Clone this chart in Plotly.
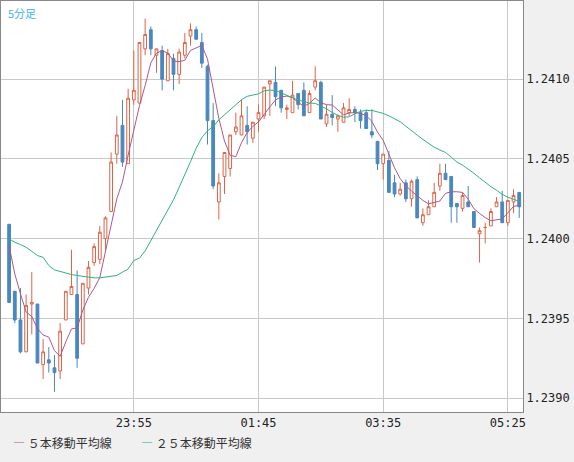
import pandas as pd
import plotly.graph_objects as go

opens = [1.24009,1.23967,1.23949,1.23929,1.23959,1.23959,1.23921,1.23924,1.23919,1.23917,1.23949,1.23965,1.23965,1.23934,1.23969,1.23985,1.23987,1.24000,1.24017,1.24053,1.24071,1.24047,1.24087,
         1.24085,1.24119,1.24131,1.24115,1.24118,1.24099,1.24113,1.24103,1.24115,1.24127,1.24131,1.24123,1.24108,1.24074,1.24023,1.24039,1.24044,1.24067,1.24065,1.24071,1.24063,1.24075,1.24077,
         1.24097,1.24098,1.24093,1.24081,1.24079,1.24091,1.24093,1.24079,1.24095,1.24098,1.24072,1.24078,1.24075,1.24073,1.24079,1.24081,1.24079,1.24079,1.24067,1.24061,1.24047,1.24049,1.24035,
         1.24028,1.24035,1.24025,1.24037,1.24010,1.24015,1.24020,1.24033,1.24041,1.24039,1.24022,1.24019,1.24023,1.24017,1.24003,1.24007,1.24008,1.24020,1.24023,1.24010,1.24023,1.24029]
highs = [1.24009,1.23967,1.23969,1.23965,1.23979,1.23959,1.23937,1.23932,1.23927,1.23947,1.23967,1.23993,1.23980,1.23972,1.23986,1.23997,1.24008,1.24014,1.24054,1.24077,1.24087,1.24094,1.24118,
         1.24123,1.24138,1.24133,1.24119,1.24121,1.24119,1.24116,1.24119,1.24129,1.24135,1.24133,1.24129,1.24109,1.24085,1.24041,1.24054,1.24065,1.24079,1.24087,1.24083,1.24073,1.24084,1.24095,
         1.24099,1.24108,1.24093,1.24084,1.24099,1.24091,1.24098,1.24093,1.24108,1.24099,1.24084,1.24090,1.24078,1.24085,1.24088,1.24083,1.24081,1.24081,1.24081,1.24061,1.24053,1.24055,1.24040,
         1.24035,1.24037,1.24037,1.24039,1.24019,1.24024,1.24035,1.24047,1.24047,1.24039,1.24022,1.24029,1.24033,1.24017,1.24007,1.24010,1.24019,1.24026,1.24030,1.24024,1.24031,1.24029]
lows = [1.23960,1.23947,1.23928,1.23929,1.23940,1.23922,1.23912,1.23916,1.23904,1.23912,1.23949,1.23965,1.23919,1.23934,1.23965,1.23983,1.23984,1.23993,1.24017,1.24047,1.24045,1.24047,1.24084,
         1.24085,1.24115,1.24115,1.24104,1.24093,1.24099,1.24093,1.24097,1.24113,1.24121,1.24125,1.24107,1.24059,1.24031,1.24012,1.24028,1.24039,1.24065,1.24065,1.24059,1.24060,1.24067,1.24075,
         1.24077,1.24083,1.24079,1.24075,1.24079,1.24081,1.24077,1.24079,1.24093,1.24075,1.24070,1.24071,1.24067,1.24073,1.24077,1.24073,1.24069,1.24069,1.24063,1.24043,1.24037,1.24029,1.24026,
         1.24027,1.24023,1.24020,1.24013,1.24008,1.24015,1.24020,1.24030,1.24037,1.24010,1.24010,1.24017,1.24020,1.24007,1.23985,1.23997,1.24008,1.24020,1.24010,1.24008,1.24016,1.24013]
closes = [1.23960,1.23949,1.23929,1.23958,1.23960,1.23922,1.23929,1.23922,1.23916,1.23942,1.23967,1.23970,1.23925,1.23972,1.23982,1.23995,1.24004,1.24013,1.24048,1.24065,1.24048,1.24088,1.24093,
          1.24123,1.24128,1.24119,1.24119,1.24100,1.24116,1.24103,1.24117,1.24123,1.24131,1.24125,1.24110,1.24074,1.24033,1.24035,1.24054,1.24065,1.24070,1.24077,1.24067,1.24073,1.24079,1.24095,
          1.24099,1.24089,1.24082,1.24082,1.24090,1.24084,1.24077,1.24091,1.24099,1.24075,1.24078,1.24076,1.24077,1.24082,1.24081,1.24079,1.24074,1.24069,1.24065,1.24047,1.24053,1.24029,1.24028,
          1.24031,1.24025,1.24036,1.24013,1.24015,1.24020,1.24029,1.24041,1.24037,1.24020,1.24020,1.24027,1.24020,1.24007,1.24005,1.24007,1.24017,1.24023,1.24010,1.24024,1.24027,1.24020]

# moving-average values before enough bars exist
ma5_head = [1.239956,1.239779,1.239654,1.23954]
ma25_head = [1.239998,1.239977,1.239963,1.239946,1.23992,1.239894,1.239883,1.239831,1.239804,1.239794,1.239783,
             1.239775,1.239769,1.239763,1.239758,1.239754,1.239754,1.239758,1.239763,1.239769,1.23979,1.23981,1.239863,1.239878]

tick_vals = ["2024-01-01 23:55", "2024-01-02 01:45", "2024-01-02 03:35", "2024-01-02 05:25"]
tick_text = ["23:55", "01:45", "03:35", "05:25"]
y_ticks = [1.2390, 1.2395, 1.2400, 1.2405, 1.2410]

times = pd.date_range("2024-01-01 22:05", periods=len(closes), freq="5min")
cs = pd.Series(closes)
ma5 = cs.rolling(5).mean().tolist()
ma25 = cs.rolling(25).mean().tolist()
ma5[:len(ma5_head)] = ma5_head
ma25[:len(ma25_head)] = ma25_head

RED = "#dc6446"
BLUE = "#4a87bf"
PURPLE = "#b0578c"
GREEN = "#2fb37c"

fig = go.Figure()
fig.add_trace(go.Candlestick(
    x=times, open=opens, high=highs, low=lows, close=closes,
    increasing=dict(line=dict(color=RED, width=1), fillcolor="white"),
    decreasing=dict(line=dict(color=BLUE, width=1), fillcolor=BLUE),
    whiskerwidth=0, showlegend=False, hoverinfo="skip"))
fig.add_trace(go.Scatter(x=times, y=ma5, mode="lines", line=dict(color=PURPLE, width=1), showlegend=False))
fig.add_trace(go.Scatter(x=times, y=ma25, mode="lines", line=dict(color=GREEN, width=1), showlegend=False))

fig.update_layout(
    width=574, height=462,
    margin=dict(l=1, r=51, t=1, b=50),
    paper_bgcolor="#f0f0f0", plot_bgcolor="white",
    font=dict(family="DejaVu Sans Mono", size=12, color="#222"),
    xaxis=dict(range=["2024-01-01 21:57:50", "2024-01-02 05:38:20"], rangeslider=dict(visible=False),
               tickvals=tick_vals, ticktext=tick_text, showgrid=True, gridcolor="#c8c8c8",
               showline=True, linecolor="#888", mirror=True, ticks="", fixedrange=True),
    yaxis=dict(range=[1.238913, 1.24149], side="right", tickvals=y_ticks, tickformat=".4f",
               showgrid=True, gridcolor="#c8c8c8", showline=True, linecolor="#888", mirror=True,
               ticks="", zeroline=False),
)
fig.add_annotation(text="5分足", x=0.01, y=0.995, xref="paper", yref="paper", xanchor="left", yanchor="top",
                   showarrow=False, font=dict(family="Noto Sans CJK JP", size=11, color="#3cb4ec"))
fig.add_annotation(text=f"<span style='color:{PURPLE}'>―</span> ５本移動平均線", x=0.02, y=-0.075,
                   xref="paper", yref="paper", xanchor="left", yanchor="middle", showarrow=False,
                   font=dict(family="Noto Sans CJK JP", size=12, color="#333"))
fig.add_annotation(text=f"<span style='color:{GREEN}'>―</span> ２５本移動平均線", x=0.265, y=-0.075,
                   xref="paper", yref="paper", xanchor="left", yanchor="middle", showarrow=False,
                   font=dict(family="Noto Sans CJK JP", size=12, color="#333"))
fig.write_html("out.html", config={"displayModeBar": False},
               post_script="document.body.style.margin='0';document.body.style.overflow='hidden';")
